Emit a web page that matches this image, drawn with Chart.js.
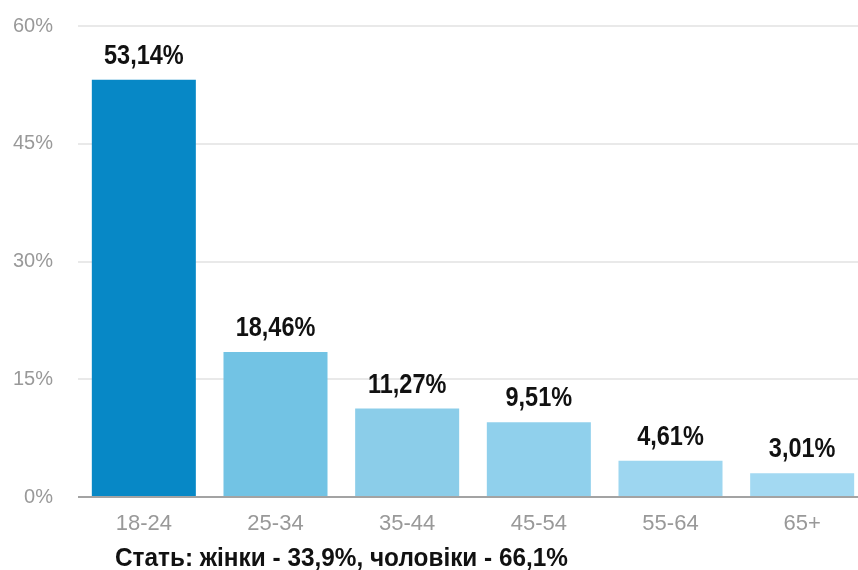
<!DOCTYPE html>
<html lang="uk">
<head>
    <meta charset="UTF-8">
    <title>Вік аудиторії</title>
    <script src="https://cdn.jsdelivr.net/npm/chart.js"></script>
    <style>
        html, body { margin: 0; padding: 0; background: #fff; overflow: hidden; }
        #wrap { position: absolute; left: 0; top: 0; width: 868px; height: 570px; }
    </style>
</head>
<body>
    <div id="wrap"><canvas id="ageChart" width="868" height="570"></canvas></div>
    <script>
        // дані з картинки
        const ageGroups = ['18-24', '25-34', '35-44', '45-54', '55-64', '65+'];
        const shares = [53.14, 18.46, 11.27, 9.51, 4.61, 3.01];
        const shareLabels = ['53,14%', '18,46%', '11,27%', '9,51%', '4,61%', '3,01%'];
        const yTicks = [0, 15, 30, 45, 60];
        const yTickLabels = ['0%', '15%', '30%', '45%', '60%'];
        const barColors = ['#0788c6', '#72c3e4', '#8bcde9', '#90d0ec', '#9dd6f0', '#a3d9f2'];
        const footerText = 'Стать: жінки - 33,9%, чоловіки - 66,1%';

        // підписи над стовпчиками + підпис знизу
        const labelsPlugin = {
            id: 'labels',
            afterDraw(chart) {
                const ctx = chart.ctx;
                const meta = chart.getDatasetMeta(0);
                ctx.save();
                ctx.fillStyle = '#111';
                ctx.textAlign = 'center';
                ctx.textBaseline = 'alphabetic';
                ctx.font = 'bold 27px "Liberation Sans", Arial, sans-serif';
                meta.data.forEach((bar, i) => {
                    const txt = shareLabels[i];
                    const w = ctx.measureText(txt).width * 0.87;
                    ctx.fillText(txt, bar.x, bar.y - 16, w);
                });
                ctx.textAlign = 'left';
                ctx.font = 'bold 26px "Liberation Sans", Arial, sans-serif';
                ctx.fillText(footerText, 115, 566, 453);
                ctx.restore();
            }
        };

        new Chart(document.getElementById('ageChart'), {
            type: 'bar',
            data: {
                labels: ageGroups,
                datasets: [{
                    data: shares,
                    backgroundColor: barColors,
                    borderWidth: 0,
                    categoryPercentage: 0.79,
                    barPercentage: 1.0
                }]
            },
            options: {
                responsive: false,
                animation: false,
                events: [],
                layout: { padding: { top: 26, left: 0, right: 0, bottom: 0 } },
                plugins: {
                    legend: { display: false },
                    tooltip: { enabled: false }
                },
                scales: {
                    x: {
                        grid: { display: false, drawTicks: false },
                        border: { display: false },
                        ticks: {
                            color: '#999',
                            padding: 14,
                            font: { family: '"Liberation Sans", Arial, sans-serif', size: 22 }
                        },
                        afterFit(scale) { scale.height = 73; }
                    },
                    y: {
                        min: 0,
                        max: 60,
                        afterBuildTicks(scale) {
                            scale.ticks = yTicks.map(v => ({ value: v }));
                        },
                        grid: {
                            drawTicks: false,
                            color: ctx => ctx.tick && ctx.tick.value === 0 ? '#a3a3a3' : '#e9e9e9',
                            lineWidth: 2
                        },
                        border: { display: false },
                        ticks: {
                            color: '#999',
                            padding: 25,
                            font: { family: '"Liberation Sans", Arial, sans-serif', size: 20 },
                            callback: (v) => yTickLabels[yTicks.indexOf(v)]
                        },
                        afterFit(scale) {
                            scale.width = 78;
                            scale.paddingTop = 0;
                            scale.paddingBottom = 0;
                        }
                    }
                }
            },
            plugins: [labelsPlugin]
        });
    </script>
</body>
</html>
